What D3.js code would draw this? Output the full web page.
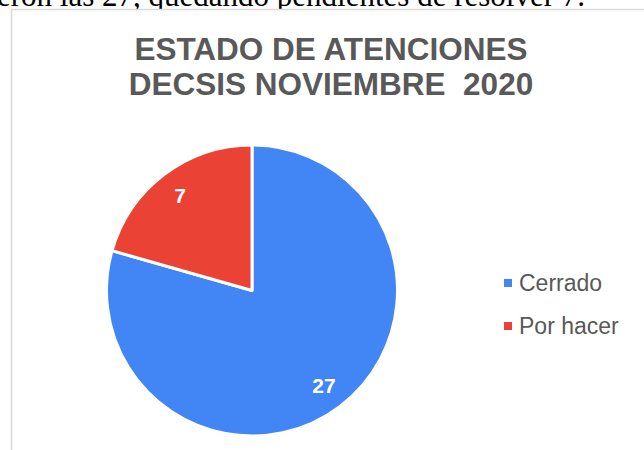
<!DOCTYPE html>
<html>
<head>
<meta charset="utf-8">
<script src="https://cdn.jsdelivr.net/npm/d3@7"></script>
<style>
  body { margin: 0; background: #fff; }
  svg { display: block; }
  text { white-space: pre; }
</style>
</head>
<body>
<div id="chart"></div>
<script>
var categories = ["Cerrado", "Por hacer"];
var values = [27, 7];
var colors = ["#4285F4", "#EA4335"];
var titleLines = ["ESTADO DE ATENCIONES", "DECSIS NOVIEMBRE  2020"];
var docText = "fueron las 27, quedando pendientes de resolver 7.";

var widthPage = 644;
var heightPage = 450;
var center = {x: 252, y: 290.5};
var radius = 145.5;

var svg = d3.select("#chart").append("svg").attr("width", widthPage).attr("height", heightPage);

// document text above the chart (clipped by the chart box)
svg.append("text").attr("x", 585).attr("y", 6).attr("text-anchor", "end")
    .style("font-family", "'Liberation Serif', 'Times New Roman', serif")
    .style("font-size", "31px").attr("fill", "#000").text(docText);

// chart box
svg.append("rect").attr("x", 11.5).attr("y", 9.5).attr("width", 700).attr("height", 500)
    .attr("fill", "#fff").attr("stroke", "#d9d9d9").attr("stroke-width", 1.5);

// title
var title = svg.append("text").attr("text-anchor", "middle")
    .style("font-family", "'Liberation Sans', Arial, sans-serif")
    .style("font-weight", "bold").style("font-size", "31.5px").attr("fill", "#595959");
title.selectAll("tspan").data(titleLines).enter().append("tspan")
    .attr("x", 331).attr("y", (d, i) => 60 + i * 35).text(d => d);

// pie
var data = categories.map((c, i) => ({name: c, value: values[i], color: colors[i]}));
var pie = d3.pie().value(d => d.value).sort(null);
var arc = d3.arc().innerRadius(0).outerRadius(radius);
var labelArc = d3.arc().innerRadius(radius * 0.82).outerRadius(radius * 0.82);

var g = svg.append("g").attr("transform", `translate(${center.x},${center.y})`);
var slices = pie(data);
g.selectAll("path").data(slices).enter().append("path")
    .attr("d", arc).attr("fill", d => d.data.color)
    .attr("stroke", "#fff").attr("stroke-width", 3).attr("stroke-linejoin", "round");

g.selectAll(".lbl").data(slices).enter().append("text").classed("lbl", true)
    .attr("transform", d => `translate(${labelArc.centroid(d)})`)
    .attr("text-anchor", "middle").attr("dy", "0.36em")
    .style("font-family", "'Liberation Sans', Arial, sans-serif")
    .style("font-weight", "bold").style("font-size", "21px").attr("fill", "#fff")
    .text(d => d.data.value);

// legend
var legend = svg.append("g").attr("transform", "translate(504,279)");
var items = legend.selectAll("g").data(data).enter().append("g")
    .attr("transform", (d, i) => `translate(0,${i * 43})`);
items.append("rect").attr("width", 8).attr("height", 8).attr("fill", d => d.color);
items.append("text").attr("x", 15).attr("y", 12)
    .style("font-family", "'Liberation Sans', Arial, sans-serif")
    .style("font-size", "23px").attr("fill", "#595959").text(d => d.name);
</script>
</body>
</html>
